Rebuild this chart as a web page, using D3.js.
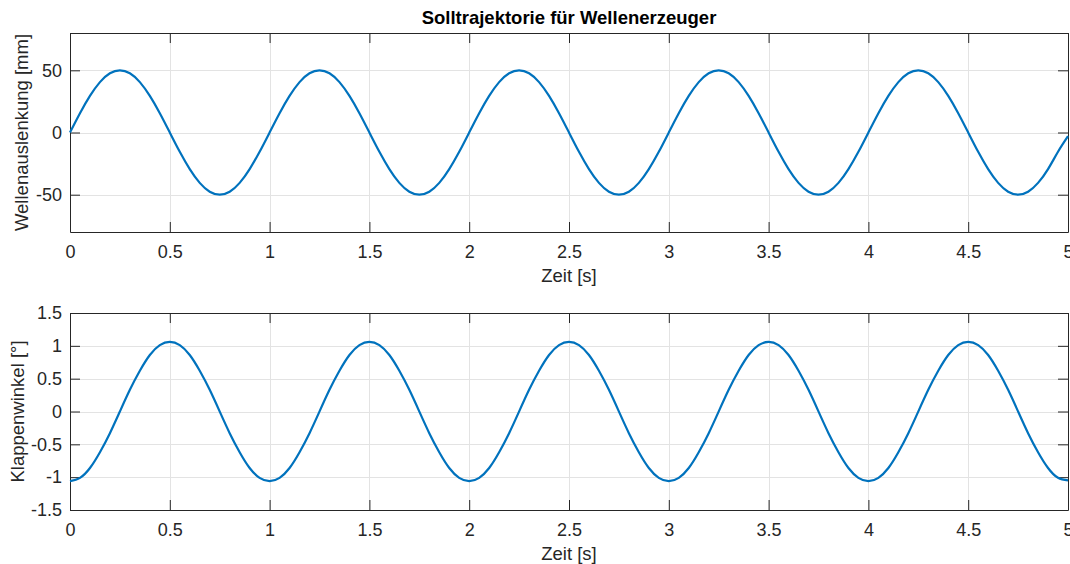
<html>
  <head>
    <meta charset="utf-8">
    <script src="https://cdnjs.cloudflare.com/ajax/libs/d3/7.8.5/d3.min.js"></script>
  </head>
  <body style="margin:0;background:#fff;">
    <style>
      text {font-family:"Liberation Sans", Arial, Helvetica, sans-serif; fill:#262626;}
      .tick text {font-size:18px;}
      .domain {stroke:#262626;}
      .tick line {stroke:#262626;}
      .grid {stroke:#e3e3e3; stroke-width:1;}
    </style>
    <div id="scene"></div>
    <script>

// D A T A

      // sample times [s]
      let times = [
        0.00, 0.05, 0.10, 0.15, 0.20, 0.25, 0.30, 0.35, 0.40, 0.45,
        0.50, 0.55, 0.60, 0.65, 0.70, 0.75, 0.80, 0.85, 0.90, 0.95,
        1.00, 1.05, 1.10, 1.15, 1.20, 1.25, 1.30, 1.35, 1.40, 1.45,
        1.50, 1.55, 1.60, 1.65, 1.70, 1.75, 1.80, 1.85, 1.90, 1.95,
        2.00, 2.05, 2.10, 2.15, 2.20, 2.25, 2.30, 2.35, 2.40, 2.45,
        2.50, 2.55, 2.60, 2.65, 2.70, 2.75, 2.80, 2.85, 2.90, 2.95,
        3.00, 3.05, 3.10, 3.15, 3.20, 3.25, 3.30, 3.35, 3.40, 3.45,
        3.50, 3.55, 3.60, 3.65, 3.70, 3.75, 3.80, 3.85, 3.90, 3.95,
        4.00, 4.05, 4.10, 4.15, 4.20, 4.25, 4.30, 4.35, 4.40, 4.45,
        4.50, 4.55, 4.60, 4.65, 4.70, 4.75, 4.80, 4.85, 4.90, 4.95,
        5.00
      ]

      // Wellenauslenkung [mm]
      let auslenkung = [
        0, 15.5, 29.4, 40.5, 47.6, 50, 47.6, 40.5, 29.4, 15.5,
        0, -15.5, -29.4, -40.5, -47.6, -50, -47.6, -40.5, -29.4, -15.5,
        0, 15.5, 29.4, 40.5, 47.6, 50, 47.6, 40.5, 29.4, 15.5,
        0, -15.5, -29.4, -40.5, -47.6, -50, -47.6, -40.5, -29.4, -15.5,
        0, 15.5, 29.4, 40.5, 47.6, 50, 47.6, 40.5, 29.4, 15.5,
        0, -15.5, -29.4, -40.5, -47.6, -50, -47.6, -40.5, -29.4, -15.5,
        0, 15.5, 29.4, 40.5, 47.6, 50, 47.6, 40.5, 29.4, 15.5,
        0, -15.5, -29.4, -40.5, -47.6, -50, -47.6, -40.5, -29.4, -15.5,
        0, 15.5, 29.4, 40.5, 47.6, 50, 47.6, 40.5, 29.4, 15.5,
        0, -15.5, -29.4, -40.5, -47.6, -50, -47.6, -40.5, -29.4, -15.5,
        -3
      ]

      // Klappenwinkel [°]
      let winkel = [
        -1.06, -1.01, -0.86, -0.62, -0.33, 0, 0.33, 0.62, 0.86, 1.01,
        1.06, 1.01, 0.86, 0.62, 0.33, 0, -0.33, -0.62, -0.86, -1.01,
        -1.06, -1.01, -0.86, -0.62, -0.33, 0, 0.33, 0.62, 0.86, 1.01,
        1.06, 1.01, 0.86, 0.62, 0.33, 0, -0.33, -0.62, -0.86, -1.01,
        -1.06, -1.01, -0.86, -0.62, -0.33, 0, 0.33, 0.62, 0.86, 1.01,
        1.06, 1.01, 0.86, 0.62, 0.33, 0, -0.33, -0.62, -0.86, -1.01,
        -1.06, -1.01, -0.86, -0.62, -0.33, 0, 0.33, 0.62, 0.86, 1.01,
        1.06, 1.01, 0.86, 0.62, 0.33, 0, -0.33, -0.62, -0.86, -1.01,
        -1.06, -1.01, -0.86, -0.62, -0.33, 0, 0.33, 0.62, 0.86, 1.01,
        1.06, 1.01, 0.86, 0.62, 0.33, 0, -0.33, -0.62, -0.86, -1.01,
        -1.05
      ]

      let xTicks = [0, 0.5, 1, 1.5, 2, 2.5, 3, 3.5, 4, 4.5, 5]
      let yTicksTop = [-50, 0, 50]
      let yTicksBottom = [-1.5, -1, -0.5, 0, 0.5, 1, 1.5]

      let title = "Solltrajektorie für Wellenerzeuger"
      let xLabel = "Zeit [s]"


// S C E N E

      let W = 1070, H = 564
      let left = 70, right = 1068

      let svg = d3.select("#scene")
        .append("svg")
          .attr("width", W)
          .attr("height", H)

      svg.append("text")
        .attr("x", (left + right) / 2)
        .attr("y", 24)
        .attr("text-anchor", "middle")
        .style("font-size", "18.5px")
        .style("font-weight", "bold")
        .style("fill", "#000")
        .text(title)


// P A N E L

      function panel(top, bottom, domain, yTicks, values, yLabel, yLabelX) {

        let x = d3.scaleLinear()
          .domain([0, 5])
          .range([left, right])

        let y = d3.scaleLinear()
          .domain(domain)
          .range([bottom, top])

        let g = svg.append("g")

        // grid
        g.append("g")
          .selectAll("line")
          .data(xTicks)
          .enter().append("line")
            .attr("class", "grid")
            .attr("x1", d => Math.round(x(d)) + 0.5)
            .attr("x2", d => Math.round(x(d)) + 0.5)
            .attr("y1", top)
            .attr("y2", bottom)
        g.append("g")
          .selectAll("line")
          .data(yTicks)
          .enter().append("line")
            .attr("class", "grid")
            .attr("x1", left)
            .attr("x2", right)
            .attr("y1", d => Math.round(y(d)) + 0.5)
            .attr("y2", d => Math.round(y(d)) + 0.5)

        // axes, ticks inside on all four sides
        g.append("g")
          .attr("transform", `translate(0,${bottom})`)
          .call(d3.axisBottom(x)
            .tickValues(xTicks)
            .tickSizeInner(-10)
            .tickSizeOuter(0)
            .tickPadding(13)
            .tickFormat(d => String(d)))
        g.append("g")
          .attr("transform", `translate(0,${top})`)
          .call(d3.axisTop(x)
            .tickValues(xTicks)
            .tickSizeInner(-10)
            .tickSizeOuter(0)
            .tickFormat(""))
        g.append("g")
          .attr("transform", `translate(${left},0)`)
          .call(d3.axisLeft(y)
            .tickValues(yTicks)
            .tickSizeInner(-10)
            .tickSizeOuter(0)
            .tickPadding(8)
            .tickFormat(d => String(d)))
        g.append("g")
          .attr("transform", `translate(${right},0)`)
          .call(d3.axisRight(y)
            .tickValues(yTicks)
            .tickSizeInner(-10)
            .tickSizeOuter(0)
            .tickFormat(""))

        g.selectAll(".tick text").style("fill", "#262626")

        // curve
        let line = d3.line()
          .x((d, i) => x(times[i]))
          .y(d => y(d))
          .curve(d3.curveNatural)

        g.append("path")
          .datum(values)
          .attr("d", line)
          .attr("fill", "none")
          .attr("stroke", "#0072BD")
          .attr("stroke-width", 2.2)
          .attr("stroke-linejoin", "round")

        // labels
        g.append("text")
          .attr("x", (left + right) / 2)
          .attr("y", bottom + 50)
          .attr("text-anchor", "middle")
          .style("font-size", "18.5px")
          .text(xLabel)

        g.append("text")
          .attr("transform", `translate(${yLabelX},${(top + bottom) / 2}) rotate(-90)`)
          .attr("text-anchor", "middle")
          .style("font-size", "18.5px")
          .text(yLabel)
      }

      panel(33, 232, [-80, 80], yTicksTop, auslenkung, "Wellenauslenkung [mm]", 28)
      panel(313, 510, [-1.5, 1.5], yTicksBottom, winkel, "Klappenwinkel [°]", 23.5)

    </script>
  </body>
</html>
